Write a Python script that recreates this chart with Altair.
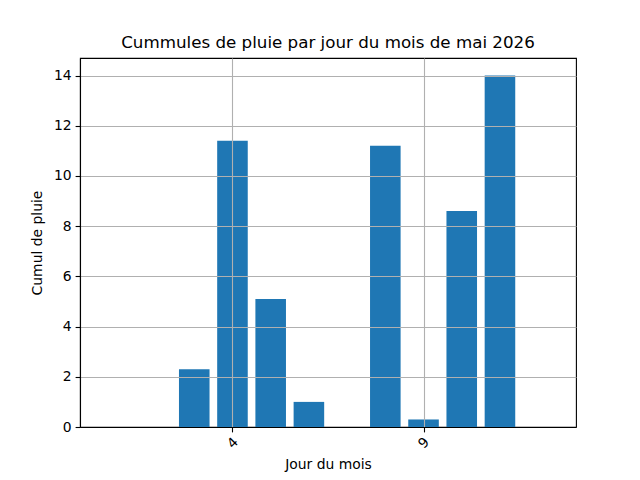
import altair as alt
import pandas as pd

days = [1, 2, 3, 4, 5, 6, 7, 8, 9, 10, 11, 12]
rain = [0, 0, 2.3, 11.4, 5.1, 1.0, 0, 11.2, 0.3, 8.6, 14.0, 0]
x_ticks = [4, 9]
y_ticks = [0, 2, 4, 6, 8, 10, 12, 14]

df = pd.DataFrame({"jour": days, "cumul": rain})
df["x0"] = df["jour"] - 0.4
df["x1"] = df["jour"] + 0.4
df["base"] = 0.0

FONT = "DejaVu Sans"

chart = alt.Chart(df).mark_rect(color="#1f77b4").encode(
    x=alt.X("x0:Q",
            scale=alt.Scale(domain=[0.01, 12.99], nice=False, zero=False, padding=0),
            axis=alt.Axis(values=x_ticks, title="Jour du mois", labelAngle=-45,
                          labelAlign="center", labelBaseline="middle", labelPadding=11,
                          grid=True, titleY=41, titleBaseline="alphabetic", zindex=1)),
    x2="x1:Q",
    y=alt.Y("cumul:Q",
            scale=alt.Scale(domain=[0, 14.7], nice=False, padding=0),
            axis=alt.Axis(values=y_ticks, title="Cumul de pluie", grid=True,
                          titlePadding=9, zindex=1)),
    y2="base:Q",
).properties(
    width=496,
    height=369,
    title=alt.TitleParams("Cummules de pluie par jour du mois de mai 2026",
                          font=FONT, fontSize=16.7, fontWeight="normal",
                          color="black", anchor="middle", offset=6),
    autosize=alt.AutoSizeParams(type="none"),
    padding={"left": 72, "top": 50, "right": 56, "bottom": 45},
).configure_axis(
    labelFont=FONT, labelFontSize=13.9, labelColor="black",
    titleFont=FONT, titleFontSize=13.9, titleColor="black", titleFontWeight="normal",
    domainColor="black", domainWidth=1.1, tickColor="black", tickWidth=1.1, tickSize=4.9,
    gridColor="#b0b0b0", gridWidth=1.1, gridOpacity=1, labelPadding=4,
).configure_view(stroke="black", strokeWidth=1.1)

chart.save("out.html", embed_options={"renderer": "svg", "actions": False})
